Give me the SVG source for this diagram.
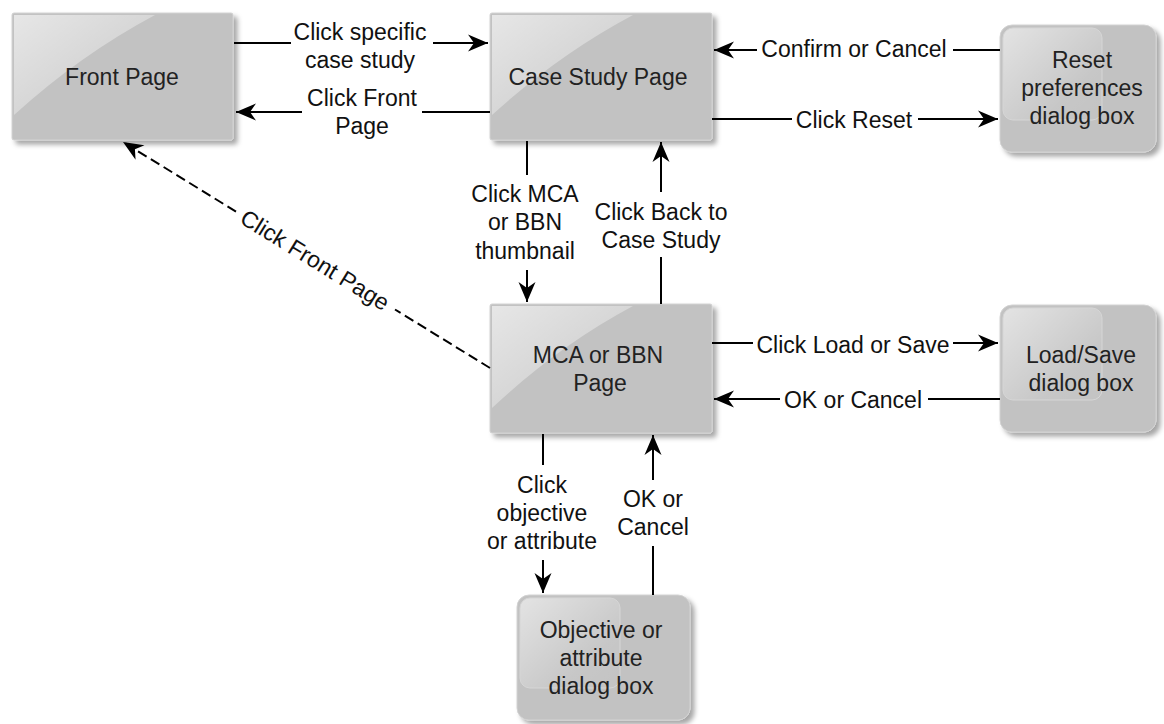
<svg xmlns="http://www.w3.org/2000/svg" width="1164" height="724" viewBox="0 0 1164 724">
<style>
.box{fill:#c2c2c2;stroke:#d2d2d2;stroke-width:1}
.nt{font-family:"Liberation Sans",Arial,sans-serif;font-size:23px;fill:#222;text-anchor:middle}
.et{font-family:"Liberation Sans",Arial,sans-serif;font-size:23px;fill:#111;text-anchor:middle}
.ln{fill:none;stroke:#000;stroke-width:2;marker-end:url(#arr)}
.dash{stroke-dasharray:10,5}
.gl{fill:url(#gloss)}
.gl2{fill:url(#gloss2);stroke:#d6d6d6;stroke-width:1}
</style>
<defs>
<filter id="sh" x="-10%" y="-10%" width="125%" height="130%">
<feDropShadow dx="4" dy="4" stdDeviation="2.5" flood-color="#000" flood-opacity="0.35"/>
</filter>
<linearGradient id="gloss" x1="0" y1="0" x2="1" y2="1">
<stop offset="0" stop-color="#fff" stop-opacity="0.6"/>
<stop offset="1" stop-color="#fff" stop-opacity="0.08"/>
</linearGradient>
<linearGradient id="gloss2" x1="0" y1="0" x2="1" y2="1">
<stop offset="0" stop-color="#fff" stop-opacity="0.55"/>
<stop offset="0.7" stop-color="#fff" stop-opacity="0.08"/>
<stop offset="1" stop-color="#fff" stop-opacity="0.02"/>
</linearGradient>
<marker id="arr" markerUnits="userSpaceOnUse" markerWidth="26" markerHeight="22" viewBox="-22 -11 26 22" refX="0" refY="0" orient="auto">
<path d="M0,0 L-20,-8.5 L-14,0 L-20,8.5 Z" fill="#000"/>
</marker>
</defs>

<g id="front-page">
<rect class="box" x="12" y="13" width="221" height="127" rx="2" filter="url(#sh)"/>
<path class="gl" d="M14,15 L155,15 Q80,55 14,115 Z"/>
<text class="nt" x="122" y="85">Front Page</text>
</g>

<g id="case-study-page">
<rect class="box" x="490" y="13" width="222" height="127" rx="2" filter="url(#sh)"/>
<path class="gl" d="M492,15 L633,15 Q558,55 492,115 Z"/>
<text class="nt" x="598" y="85">Case Study Page</text>
</g>

<g id="reset-dialog">
<rect class="box" x="1000" y="25" width="156" height="127" rx="12" filter="url(#sh)"/>
<rect class="gl2" x="1003" y="28" width="99" height="92" rx="10"/>
<text class="nt" x="1082" y="68">Reset</text>
<text class="nt" x="1082" y="96">preferences</text>
<text class="nt" x="1082" y="124">dialog box</text>
</g>

<g id="mca-bbn-page">
<rect class="box" x="490" y="304" width="222" height="129" rx="2" filter="url(#sh)"/>
<path class="gl" d="M492,306 L633,306 Q558,346 492,408 Z"/>
<text class="nt" x="598" y="363">MCA or BBN</text>
<text class="nt" x="600" y="391">Page</text>
</g>

<g id="load-save-dialog">
<rect class="box" x="1000" y="305" width="156" height="127" rx="12" filter="url(#sh)"/>
<rect class="gl2" x="1003" y="308" width="99" height="92" rx="10"/>
<text class="nt" x="1081" y="363">Load/Save</text>
<text class="nt" x="1081" y="391">dialog box</text>
</g>

<g id="objective-dialog">
<rect class="box" x="517" y="595" width="173" height="125" rx="12" filter="url(#sh)"/>
<rect class="gl2" x="520" y="598" width="100" height="90" rx="10"/>
<text class="nt" x="601" y="638">Objective or</text>
<text class="nt" x="601" y="666">attribute</text>
<text class="nt" x="601" y="694">dialog box</text>
</g>

<g id="connectors">
<path class="ln" d="M234,43 L291,43 M433,43 L488,43"/>
<text class="et" x="360" y="40">Click specific</text>
<text class="et" x="360" y="68">case study</text>

<path class="ln" d="M490,112 L422,112 M302,112 L236,112"/>
<text class="et" x="362" y="106">Click Front</text>
<text class="et" x="362" y="134">Page</text>

<path class="ln" d="M1000,50 L953,50 M757,50 L714,50"/>
<text class="et" x="854" y="57">Confirm or Cancel</text>

<path class="ln" d="M712,119 L792,119 M918,119 L998,119"/>
<text class="et" x="854" y="128">Click Reset</text>

<path class="ln" d="M527,141 L527,175 M527,270 L527,302"/>
<text class="et" x="525" y="202">Click MCA</text>
<text class="et" x="525" y="230">or BBN</text>
<text class="et" x="525" y="259">thumbnail</text>

<path class="ln" d="M661,304 L661,257 M661,192 L661,142"/>
<text class="et" x="661" y="220">Click Back to</text>
<text class="et" x="661" y="248">Case Study</text>

<path class="ln dash" d="M490,368 L395,309.5 M236,211.6 L123,142"/>
<text class="et" x="315" y="268" transform="rotate(31.6 315 260)">Click Front Page</text>

<path class="ln" d="M712,343 L753,343 M953,343 L998,343"/>
<text class="et" x="853" y="353">Click Load or Save</text>

<path class="ln" d="M1000,399 L928,399 M780,399 L714,399"/>
<text class="et" x="853" y="408">OK or Cancel</text>

<path class="ln" d="M543,434 L543,465 M543,560 L543,593"/>
<text class="et" x="542" y="493">Click</text>
<text class="et" x="542" y="521">objective</text>
<text class="et" x="542" y="549">or attribute</text>

<path class="ln" d="M653,595 L653,546 M653,480 L653,435"/>
<text class="et" x="653" y="507">OK or</text>
<text class="et" x="653" y="535">Cancel</text>
</g>
</svg>
